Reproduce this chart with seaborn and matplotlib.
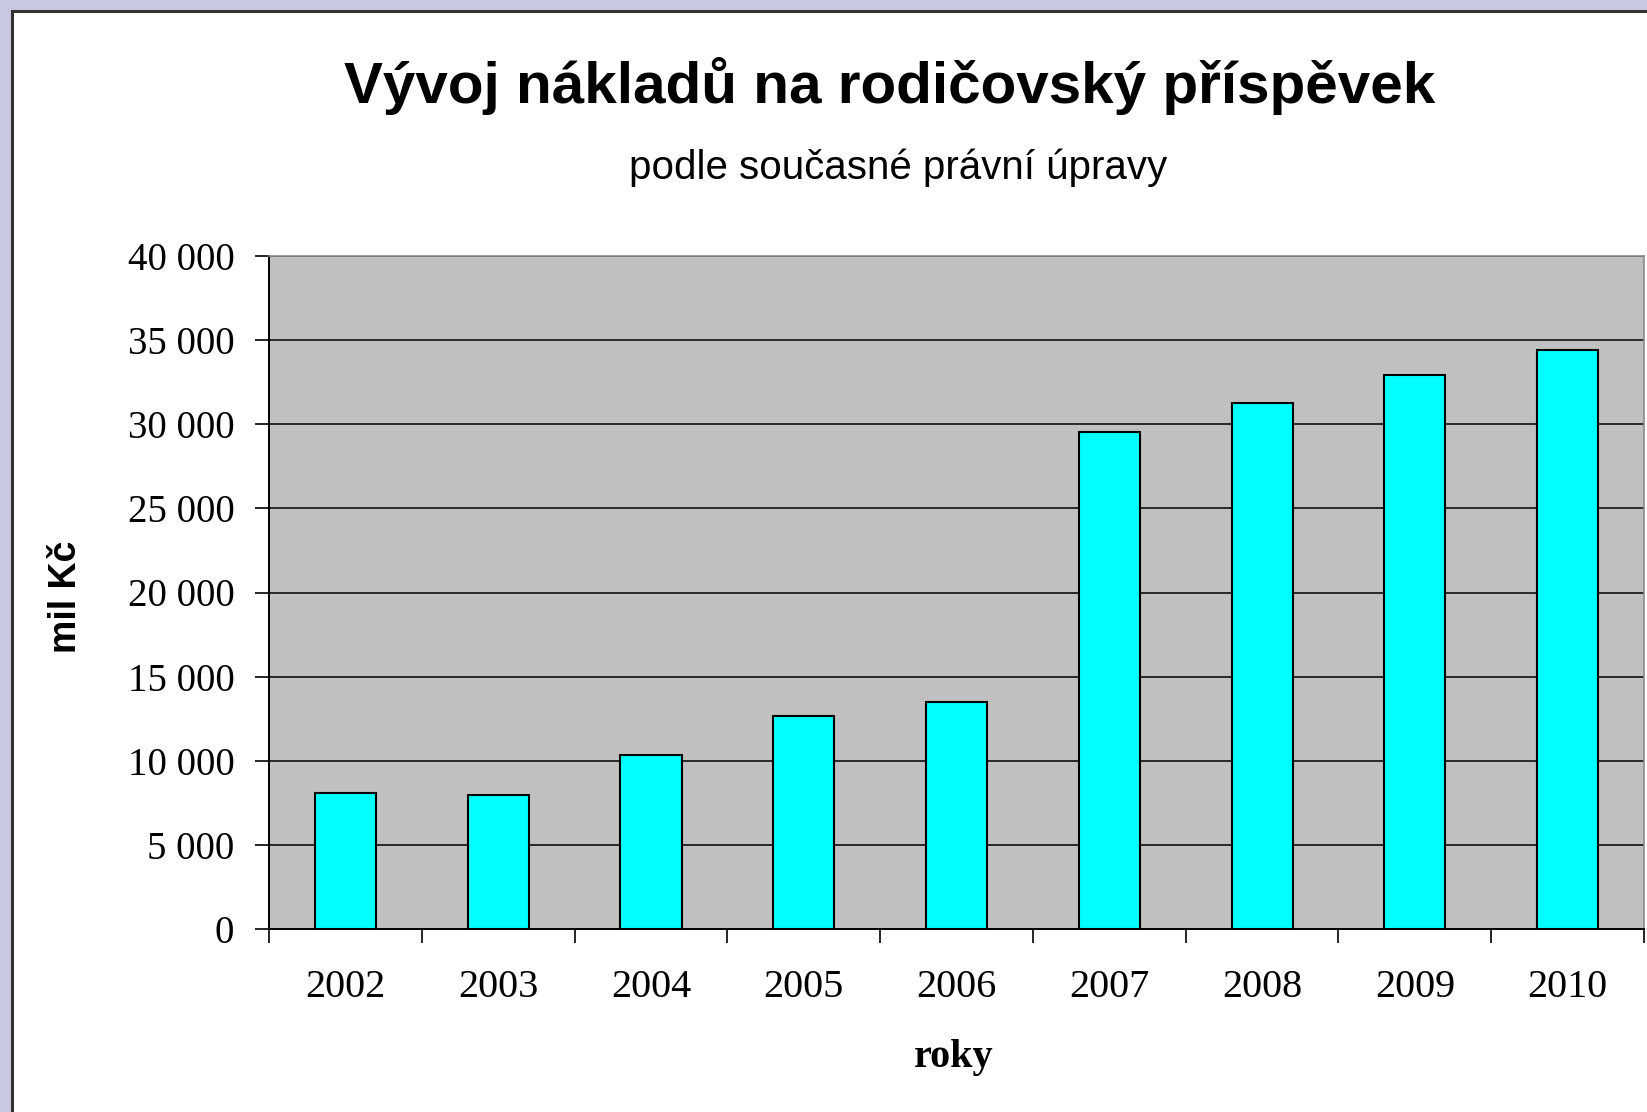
import matplotlib
matplotlib.use("Agg")
import matplotlib.pyplot as plt
import seaborn as sns
import pandas as pd
from matplotlib.patches import Rectangle
from matplotlib.ticker import FuncFormatter, FixedLocator

years = ["2002", "2003", "2004", "2005", "2006", "2007", "2008", "2009", "2010"]
costs = [8090, 7950, 10330, 12640, 13490, 29510, 31260, 32940, 34420]
y_ticks = [0, 5000, 10000, 15000, 20000, 25000, 30000, 35000, 40000]

title = "Vývoj nákladů na rodičovský příspěvek"
subtitle = "podle současné právní úpravy"
ylabel = "mil Kč"
xlabel = "roky"

df = pd.DataFrame({"rok": years, "naklady": costs})

sns.set_theme(style="white")
plt.rcParams["font.family"] = ["Liberation Sans", "DejaVu Sans"]
plt.rcParams["text.color"] = "black"
plt.rcParams["axes.labelcolor"] = "black"
plt.rcParams["xtick.color"] = "black"
plt.rcParams["ytick.color"] = "black"

W, H = 1647, 1112
fig = plt.figure(figsize=(W / 100, H / 100), dpi=100)
fig.patch.set_facecolor("#c8c8e0")

# white chart area with dark border
fig.patches.append(Rectangle((12 / W, -0.05), (W + 20) / W, (H - 11) / H + 0.05,
                             transform=fig.transFigure, facecolor="white",
                             edgecolor="#333333", linewidth=2.2, zorder=-5))

ax = fig.add_axes([269 / W, 1 - 929 / H, (1644 - 269) / W, (929 - 256) / H])
ax.set_zorder(2)
ax.set_facecolor("#c0c0c0")

sns.barplot(data=df, x="rok", y="naklady", color="#00ffff", width=0.4,
            edgecolor="black", linewidth=1.5, saturation=1, ax=ax, zorder=3)

ax.set_ylim(0, 40000)
ax.set_xlim(-0.5, len(years) - 0.5)
ax.set_yticks(y_ticks)
ax.yaxis.set_major_formatter(FuncFormatter(lambda v, p: f"{int(v):,}".replace(",", " ")))
ax.grid(axis="y", color="black", linewidth=1.1, zorder=1)
ax.set_axisbelow(True)

for lab in ax.get_yticklabels():
    lab.set_fontfamily(["Liberation Serif", "DejaVu Serif"])
    lab.set_fontsize(28)
ax.tick_params(axis="y", which="major", direction="out", length=10, width=1.2,
               color="black", pad=15, left=True)

ax.tick_params(axis="x", which="major", length=0, pad=29)
for lab in ax.get_xticklabels():
    lab.set_fontfamily(["Liberation Serif", "DejaVu Serif"])
    lab.set_fontsize(29)
ax.xaxis.set_minor_locator(FixedLocator([i - 0.5 for i in range(len(years) + 1)]))
ax.tick_params(axis="x", which="minor", direction="out", length=10, width=1.2,
               color="black", bottom=True)

for side in ["left", "bottom"]:
    ax.spines[side].set_color("black")
    ax.spines[side].set_linewidth(1.4)
for side in ["top", "right"]:
    ax.spines[side].set_visible(True)
    ax.spines[side].set_color("#8a8a8a")
    ax.spines[side].set_linewidth(1.2)

ax.set_xlabel("")
ax.set_ylabel("")

fig.text(66 / W, 1 - 597 / H, ylabel, rotation=90, ha="center", va="center",
         fontsize=27, fontweight="bold", family=["Liberation Sans", "DejaVu Sans"])
fig.text(954 / W, 1 - 1057 / H, xlabel, ha="center", va="center",
         fontsize=29, fontweight="bold", family=["Liberation Serif", "DejaVu Serif"])
fig.text(890 / W, 1 - 86 / H, title, ha="center", va="center",
         fontsize=42, fontweight="bold", family=["Liberation Sans", "DejaVu Sans"])
fig.text(898 / W, 1 - 168 / H, subtitle, ha="center", va="center",
         fontsize=29, family=["Liberation Sans", "DejaVu Sans"])

fig.savefig("out.png", dpi=100, facecolor=fig.get_facecolor())
